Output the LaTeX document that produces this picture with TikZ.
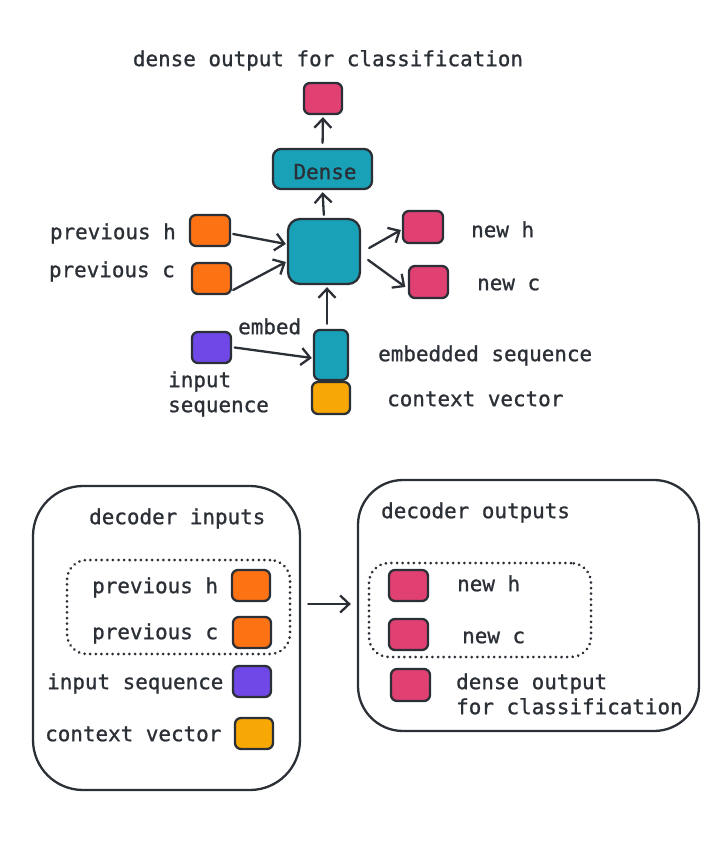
\documentclass[tikz,border=0pt]{standalone}
\usepackage{fontspec}
\newfontfamily\lblfont{DejaVu Sans Mono}[FakeBold=1]
\usetikzlibrary{arrows.meta}
\definecolor{ink}{HTML}{2B2F36}
\definecolor{pinkc}{HTML}{E04072}
\definecolor{tealc}{HTML}{19A1B8}
\definecolor{orangec}{HTML}{FD7314}
\definecolor{purplec}{HTML}{7048E8}
\definecolor{yellowc}{HTML}{F7A805}
\tikzset{
  sq/.style={draw=ink, line width=2.3pt, rounded corners=6pt, inner sep=0pt, minimum width=38pt, minimum height=31pt},
  lbl/.style={font=\lblfont\fontsize{20.9}{25}\selectfont, text=ink, inner sep=0pt, yshift=-5pt},
  arr/.style={draw=ink, line width=2.3pt, line cap=round, -{Straight Barb[length=9pt,width=17pt,line width=2.3pt]}},
  bigbox/.style={draw=ink, line width=2.3pt, inner sep=0pt},
  dotbox/.style={draw=ink, line width=3pt, line cap=round, dash pattern=on 0.01pt off 5.6pt, inner sep=0pt, rounded corners=20pt}
}
\begin{document}
\begin{tikzpicture}[x=1pt, y=-1pt]
\useasboundingbox (0,0) rectangle (718,855);
% ---------- top diagram ----------
\node[lbl, anchor=mid] (title) at (328,59) {dense output for classification};
\node[sq, fill=pinkc] (out) at (323,98.5) {};
\node[sq, fill=tealc, minimum width=99pt, minimum height=40pt, rounded corners=8pt] (dense) at (322.5,169) {};
\node[lbl, anchor=mid] (denselbl) at (325,172) {Dense};
\node[sq, fill=tealc, minimum width=72pt, minimum height=65pt, rounded corners=12pt] (cell) at (324,251.5) {};
\node[sq, fill=orangec, minimum width=40pt] (ph) at (210,230.5) {};
\node[lbl, anchor=mid east] (phl) at (176,232) {previous h};
\node[sq, fill=orangec, minimum width=39pt] (pc) at (211.5,278.5) {};
\node[lbl, anchor=mid east] (pcl) at (175,270) {previous c};
\node[sq, fill=pinkc, minimum width=40pt, minimum height=32pt] (nh) at (423,227) {};
\node[lbl, anchor=mid west] (nhl) at (471,230) {new h};
\node[sq, fill=pinkc, minimum width=39pt, minimum height=32pt] (nc) at (428.5,282) {};
\node[lbl, anchor=mid west] (ncl) at (477,283) {new c};
\node[sq, fill=purplec, minimum width=39pt] (inp) at (211.5,347.5) {};
\node[lbl, anchor=mid west] (inl1) at (168,380) {input};
\node[lbl, anchor=mid west] (inl2) at (168,405) {sequence};
\node[lbl, anchor=mid west] (embl) at (238,327) {embed};
\node[sq, fill=tealc, minimum width=34pt, minimum height=50pt] (emb) at (331,355) {};
\node[lbl, anchor=mid west] (embsl) at (378,354) {embedded sequence};
\node[sq, fill=yellowc, minimum width=38pt, minimum height=32pt] (ctx) at (331,398) {};
\node[lbl, anchor=mid west] (ctxl) at (387,399) {context vector};
% arrows
\draw[arr, shorten <=3pt, shorten >=2pt] (cell.north) -- (dense.south);
\draw[arr, shorten <=5pt, shorten >=2pt] (dense.north) -- (out.south);
\draw[arr] ([xshift=2pt,yshift=-3.5pt]ph.east) -- ([xshift=-1pt,yshift=7.5pt]cell.west);
\draw[arr] ([xshift=1pt,yshift=-11.5pt]pc.east) -- ([xshift=-1pt,yshift=-10.5pt]cell.west);
\draw[arr] ([xshift=8pt,yshift=3.5pt]cell.east) -- ([xshift=-1pt,yshift=-3pt]nh.west);
\draw[arr] ([xshift=7pt,yshift=-8.5pt]cell.east) -- ([xshift=-2.5pt,yshift=-5pt]nc.west);
\draw[arr] ([xshift=2.5pt]inp.east) -- ([xshift=-1pt,yshift=-3pt]emb.west);
\draw[arr] ([xshift=-4pt,yshift=5pt]emb.north) -- ([xshift=3pt,yshift=-2pt]cell.south);
% ---------- bottom diagram ----------
\node[bigbox, minimum width=267pt, minimum height=304pt, rounded corners=50pt] (inbox) at (166.5,638) {};
\node[bigbox, minimum width=341pt, minimum height=251pt, rounded corners=45pt] (outbox) at (528.5,605.5) {};
\node[lbl, anchor=mid west] (dil) at (89,517) {decoder inputs};
\node[dotbox, minimum width=223pt, minimum height=94pt] (ingrp) at (178.5,607) {};
\node[sq, fill=orangec] (bph) at (251,585.5) {};
\node[lbl, anchor=mid west] (bphl) at (92,586) {previous h};
\node[sq, fill=orangec] (bpc) at (252,632.5) {};
\node[lbl, anchor=mid west] (bpcl) at (92,632) {previous c};
\node[sq, fill=purplec] (binp) at (252,681.5) {};
\node[lbl, anchor=mid west] (binpl) at (47,682) {input sequence};
\node[sq, fill=yellowc] (bctx) at (254,733.5) {};
\node[lbl, anchor=mid west] (bctxl) at (45,734) {context vector};
\node[lbl, anchor=mid west] (dol) at (381,511) {decoder outputs};
\node[dotbox, minimum width=222pt, minimum height=94pt] (outgrp) at (480,610) {};
\node[sq, fill=pinkc, minimum width=39pt] (bnh) at (408.5,585.5) {};
\node[lbl, anchor=mid west] (bnhl) at (457,584) {new h};
\node[sq, fill=pinkc, minimum width=39pt] (bnc) at (408.5,634.5) {};
\node[lbl, anchor=mid west] (bncl) at (462,636) {new c};
\node[sq, fill=pinkc, minimum width=39pt, minimum height=32pt] (bdo) at (410.5,685) {};
\node[lbl, anchor=mid west] (bdol1) at (456,682) {dense output};
\node[lbl, anchor=mid west] (bdol2) at (456,707) {for classification};
\draw[arr] ([xshift=7pt,yshift=34pt]inbox.east) -- ([xshift=-6pt,yshift=1.5pt]outbox.west);
\end{tikzpicture}
\end{document}
